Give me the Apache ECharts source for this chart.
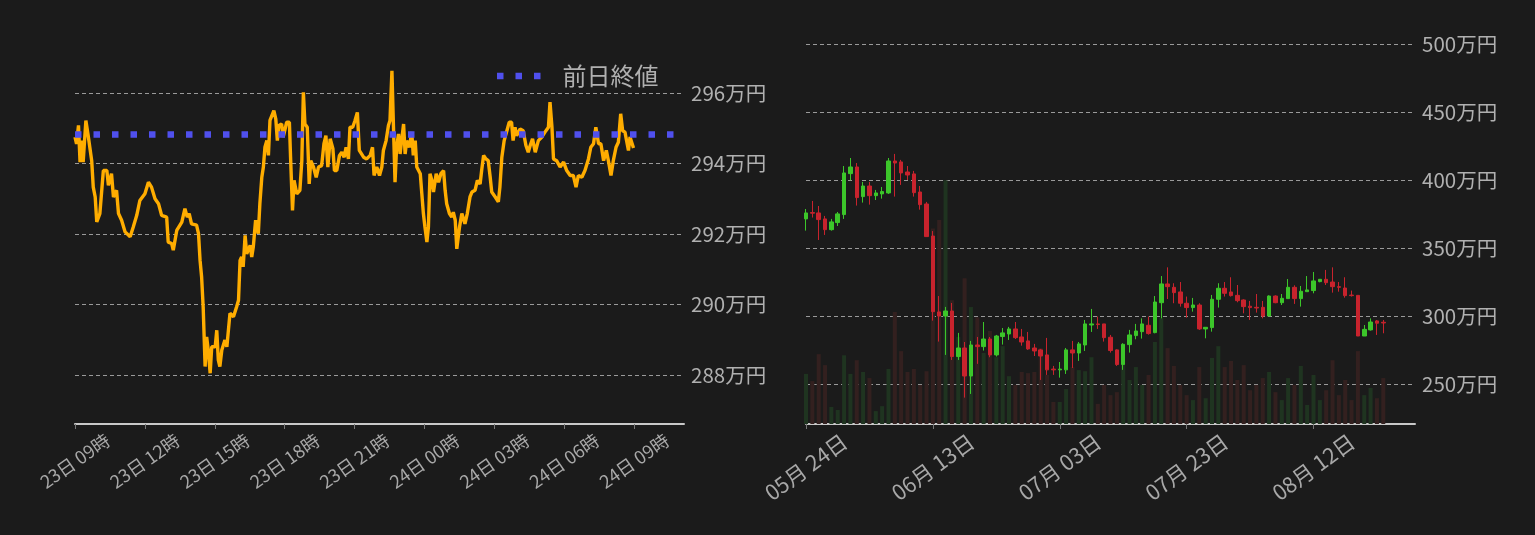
<!DOCTYPE html>
<html><head><meta charset="utf-8">
<script src="https://cdn.jsdelivr.net/npm/echarts@6/dist/echarts.min.js"></script>
<style>html,body{margin:0;padding:0;background:#1b1b1b;}#c{width:1535px;height:535px;}</style>
</head><body><div id="c"></div>
<script>
// ---- Left chart: intraday price (minutes from 23日 09:00, 万円) ----
const timeLabels = ['23日 09時','23日 12時','23日 15時','23日 18時','23日 21時','24日 00時','24日 03時','24日 06時','24日 09時'];
const prevClose = 294.82;
const priceMinutes = [0,4,9,13,17,21,28,34,39,43,47,52,56,64,69,73,82,86,94,99,107,112,120,129,142,150,159,167,180,189,197,206,215,223,236,240,249,253,262,275,283,289,294,300,313,318,322,326,330,335,339,343,348,352,361,365,369,373,378,386,391,399,408,416,421,425,429,433,438,442,451,455,459,465,472,476,481,485,489,494,498,502,506,512,517,521,525,532,536,545,552,555,560,564,571,579,584,588,592,598,603,607,614,621,627,635,641,646,651,657,664,668,674,681,687,693,698,704,708,715,721,727,732,743,751,760,766,770,777,784,790,794,801,807,811,816,820,824,828,833,837,841,846,850,854,861,867,871,876,880,889,893,897,901,906,910,914,919,923,930,936,942,949,953,957,964,970,974,979,983,990,996,1004,1010,1017,1022,1030,1036,1043,1047,1052,1058,1064,1069,1073,1082,1090,1094,1099,1105,1112,1118,1124,1128,1133,1137,1146,1154,1161,1167,1172,1178,1185,1193,1202,1210,1219,1223,1228,1232,1240,1249,1258,1266,1275,1283,1290,1296,1305,1313,1322,1328,1335,1341,1348,1354,1361,1368,1374,1380,1386,1393,1399,1405,1410,1416,1425,1429,1438];
const priceValues = [294.75,294.56,295.08,294.04,294.65,294.04,295.22,294.79,294.79,294.08,293.33,293.05,292.34,292.58,292.62,293.80,293.80,293.38,293.71,293.05,293.24,292.58,292.39,292.06,291.92,292.20,292.53,292.95,293.14,293.47,293.33,293.00,292.86,292.53,292.48,291.77,291.73,291.54,292.10,292.34,292.72,292.48,292.58,292.29,292.25,292.01,291.25,290.78,289.93,288.24,289.08,288.71,288.05,288.80,288.80,289.27,288.42,288.24,288.71,288.99,288.80,289.75,289.65,289.93,290.12,291.25,291.35,291.07,291.96,291.44,291.68,291.35,291.63,292.39,292.01,292.86,293.61,293.90,294.46,294.65,294.23,295.22,295.26,295.50,295.26,294.65,295.08,295.12,294.75,295.17,295.17,294.18,292.67,293.52,293.14,293.24,294.08,296.02,295.12,295.03,293.42,294.08,293.90,293.61,293.90,293.94,294.56,294.79,293.90,294.70,294.42,293.80,293.80,294.23,294.32,294.18,294.46,294.13,295.03,295.03,295.22,295.45,294.37,294.18,294.13,294.23,294.46,293.66,293.90,293.66,293.90,294.37,294.65,295.08,295.22,296.63,295.03,293.47,294.46,294.84,294.27,294.65,295.12,294.27,294.65,294.46,294.89,294.23,294.65,293.90,293.71,293.14,292.58,292.20,291.77,292.20,293.71,293.52,293.19,293.71,293.47,293.71,293.80,293.24,292.86,292.58,292.48,292.62,292.39,291.58,292.20,292.58,292.29,292.58,293.05,293.19,293.24,293.52,293.42,293.80,294.23,294.13,294.08,293.61,293.19,293.05,292.91,293.33,294.18,294.65,294.93,295.17,295.17,294.65,295.03,294.79,294.98,294.93,294.51,294.32,294.51,294.70,294.32,294.65,294.75,294.89,295.03,295.74,295.03,294.13,294.08,293.90,294.04,293.80,293.66,293.66,293.33,293.66,293.61,293.80,294.13,294.46,294.56,295.03,294.56,294.56,294.08,294.37,294.04,293.66,294.08,294.46,294.60,295.41,294.93,294.89,294.37,294.75,294.44];
const leftXMin = 0, leftXMax = 1568;

// ---- Right chart: daily candles (万円) ----
const startDate = Date.UTC(2024, 4, 24);
const dayCount = 97;
const dateLabels = [];
for (let i = 0; i < dayCount; i++) {
  const d = new Date(startDate + i * 86400000);
  const mm = String(d.getUTCMonth() + 1).padStart(2, '0');
  const dd = String(d.getUTCDate()).padStart(2, '0');
  dateLabels.push(mm + '月 ' + dd + '日');
}
const candleOpen  = [371.6,376.3,376.0,371.6,363.7,368.9,374.8,404.9,409.8,388.0,395.8,388.7,390.0,390.7,414.2,413.5,406.1,404.7,391.4,382.6,359.0,303.2,300.2,303.9,270.4,276.7,256.1,278.9,277.7,283.3,271.6,285.1,287.0,290.7,284.8,281.9,276.7,275.3,271.6,261.2,260.6,260.6,275.3,273.0,278.9,293.6,294.4,294.4,284.6,275.3,264.5,279.2,285.8,288.7,293.4,288.0,310.0,323.8,321.3,317.9,309.6,306.4,308.3,290.7,291.7,312.5,320.6,317.9,315.4,312.0,307.4,306.6,306.6,300.2,314.9,310.0,313.0,321.3,313.0,318.1,318.9,325.5,327.2,325.2,321.8,320.8,315.6,315.4,285.5,290.0,296.6,295.6];
const candleClose = [376.0,375.8,371.1,363.7,369.4,375.3,405.4,409.8,387.3,395.8,388.7,390.7,391.7,414.2,412.7,405.4,403.9,390.9,382.1,358.6,303.4,300.2,303.9,270.4,276.7,256.1,278.9,277.7,283.3,271.6,285.5,287.8,290.7,284.3,281.1,276.0,274.5,270.8,260.6,260.6,261.2,275.3,273.0,279.7,294.4,294.4,293.9,284.3,274.8,264.5,279.4,286.3,289.2,294.4,287.3,310.5,323.8,321.8,317.4,309.6,306.4,308.3,290.7,291.9,312.5,320.6,316.9,315.2,311.5,307.1,306.4,306.1,300.2,314.9,310.0,313.2,321.3,313.0,318.4,319.4,326.0,327.2,324.7,321.8,321.3,315.2,315.2,285.5,290.4,295.8,294.9,295.1];
const candleLow   = [363.0,372.6,356.1,359.8,363.0,366.4,371.6,400.0,381.4,383.6,382.1,385.5,386.5,390.0,388.0,396.6,400.2,388.0,378.4,358.6,296.8,281.4,271.6,267.9,267.9,240.2,242.9,265.0,274.8,269.9,270.4,279.2,282.6,283.3,278.4,275.3,270.8,253.2,256.9,256.9,254.9,257.6,262.0,267.2,274.5,288.5,290.7,281.4,273.3,263.5,260.6,273.3,283.1,283.6,286.5,287.5,298.5,312.7,309.6,307.1,299.0,303.4,290.0,283.8,288.7,306.4,314.5,314.5,310.3,302.2,297.3,302.7,298.5,300.2,309.6,308.3,313.0,309.1,307.1,318.1,316.9,325.0,323.0,317.4,318.1,313.7,314.5,285.5,285.5,289.5,286.3,287.5];
const candleHigh  = [378.9,384.8,381.1,373.8,371.6,376.7,410.5,416.4,412.7,398.8,398.8,392.9,395.1,416.4,419.4,415.0,410.5,406.9,395.8,384.1,362.7,314.9,306.9,309.8,287.8,281.1,281.9,284.8,295.8,284.8,286.3,291.4,292.2,295.8,290.7,288.5,279.7,276.0,284.1,263.5,266.4,276.7,281.9,281.1,297.3,305.4,299.8,294.4,286.3,275.7,280.2,290.0,294.4,298.5,299.8,314.9,329.6,336.0,324.3,325.2,314.5,313.5,309.6,291.9,315.7,324.3,325.2,328.7,323.0,312.5,311.3,316.4,311.3,315.4,315.4,316.4,327.4,322.8,322.3,329.6,332.6,327.4,334.1,336.0,325.2,328.7,318.9,315.4,293.6,298.5,297.3,297.3];
const volumes     = [13.2,11.3,18.4,15.5,4.5,3.7,18.1,13.2,16.8,13.7,12.1,3.4,4.7,14.5,29.5,19.2,13.7,14.5,10.3,13.9,51.5,53.7,64.2,32.6,22.9,38.4,30.8,28.1,18.7,24.5,17.6,20.5,12.6,10.3,13.7,13.4,13.7,20.0,12.9,5.8,5.8,9.2,15.0,14.2,13.9,17.6,5.3,10.3,7.6,8.4,15.5,11.6,15.0,10.3,12.9,21.6,27.9,20.0,15.3,10.3,7.6,6.3,15.0,6.8,17.4,20.5,15.0,16.6,11.6,15.5,8.9,10.3,12.1,13.7,8.4,6.3,12.1,10.3,15.3,5.0,12.9,6.3,8.9,16.8,7.6,11.6,6.3,19.2,7.6,9.5,6.8,12.1];

const FONT = '"Noto Sans CJK JP", "Noto Sans", sans-serif';
const UP = '#3cc62a', DOWN = '#c8232d';
const UP_VOL = '#1f3420', DOWN_VOL = '#33201f';
const PREV_COLOR = '#5050ee';

const candleData = candleOpen.map((o, i) => [o, candleClose[i], candleLow[i], candleHigh[i]]);
const volData = volumes.map((v, i) => ({
  value: v,
  itemStyle: { color: candleClose[i] >= candleOpen[i] ? UP_VOL : DOWN_VOL }
}));
const priceData = priceMinutes.map((m, i) => [m, priceValues[i]]);

const axisLineStyle = { lineStyle: { color: '#c8c8c8', width: 2 } };
const splitStyle = { lineStyle: { color: '#9a9a9a', width: 1, type: [4, 3] }, showMinLine: false, showMaxLine: false };

const chart = echarts.init(document.getElementById('c'));
chart.setOption({
  backgroundColor: '#1b1b1b',
  animation: false,
  textStyle: { fontFamily: FONT },
  legend: {
    data: [{ name: '前日終値', icon: 'path://M0,0h6.5v6.5h-6.5z M18.5,0h6.5v6.5h-6.5z M37,0h6.5v6.5h-6.5z' }],
    left: 492, top: 59,
    itemWidth: 43.5, itemHeight: 6.5,
    itemStyle: { color: PREV_COLOR },
    textStyle: { color: '#b0b0b0', fontSize: 24, fontFamily: FONT, padding: [0, 0, 0, 17] }
  },
  grid: [
    { left: 75, right: 851, top: 22.5, bottom: 111 },
    { left: 806, right: 120, top: 44.3, bottom: 111 }
  ],
  xAxis: [
    {
      gridIndex: 0, type: 'value', min: leftXMin, max: leftXMax, interval: 180,
      axisLine: axisLineStyle,
      axisTick: { show: true, length: 5, lineStyle: { color: '#777' } },
      axisLabel: {
        formatter: v => (timeLabels[Math.round(v / 180)] || ''),
        rotate: 35, align: 'center', verticalAlign: 'middle', margin: 37,
        color: '#a8a8a8', fontSize: 18, fontFamily: FONT, showMaxLabel: false
      },
      splitLine: { show: false }
    },
    {
      gridIndex: 1, type: 'category', data: dateLabels, boundaryGap: false,
      axisLine: axisLineStyle,
      axisTick: { show: true, interval: 19, length: 5, lineStyle: { color: '#777' } },
      axisLabel: {
        interval: 19, rotate: 36, align: 'center', verticalAlign: 'middle', margin: 43,
        color: '#a8a8a8', fontSize: 21.5, fontFamily: FONT
      },
      splitLine: { show: false }
    }
  ],
  yAxis: [
    {
      gridIndex: 0, type: 'value', position: 'right', min: 286.61, max: 298,
      axisLine: { show: false }, axisTick: { show: false },
      axisLabel: { formatter: v => v + '万円', margin: 7, color: '#b0b0b0', fontSize: 20.5, fontFamily: FONT, showMinLabel: false, showMaxLabel: false },
      splitLine: splitStyle
    },
    {
      gridIndex: 1, type: 'value', position: 'right', min: 220.8, max: 500,
      axisLine: { show: false }, axisTick: { show: false },
      axisLabel: { formatter: v => v + '万円', margin: 7, color: '#b0b0b0', fontSize: 20.5, fontFamily: FONT, showMinLabel: false },
      splitLine: { lineStyle: { color: '#9a9a9a', width: 1, type: [4, 3] }, showMinLine: false, showMaxLine: true }
    },
    {
      gridIndex: 1, type: 'value', min: 0, max: 100, show: false,
      splitLine: { show: false }
    }
  ],
  series: [
    {
      name: '価格', type: 'line', xAxisIndex: 0, yAxisIndex: 0, data: priceData,
      symbol: 'none', lineStyle: { color: '#ffad00', width: 3.4 }, z: 2
    },
    {
      name: '前日終値', type: 'line', xAxisIndex: 0, yAxisIndex: 0,
      data: [[leftXMin, prevClose], [leftXMax, prevClose]],
      symbol: 'none', color: PREV_COLOR,
      lineStyle: { color: PREV_COLOR, width: 6.5, type: [6.5, 12], cap: 'butt' }, z: 3
    },
    {
      name: '出来高', type: 'bar', xAxisIndex: 1, yAxisIndex: 2, data: volData,
      barWidth: 4, z: 1
    },
    {
      name: '日足', type: 'candlestick', xAxisIndex: 1, yAxisIndex: 1, data: candleData,
      barWidth: 4,
      itemStyle: { color: UP, color0: DOWN, borderColor: UP, borderColor0: DOWN, borderWidth: 1 },
      z: 3
    }
  ]
});
</script></body></html>
